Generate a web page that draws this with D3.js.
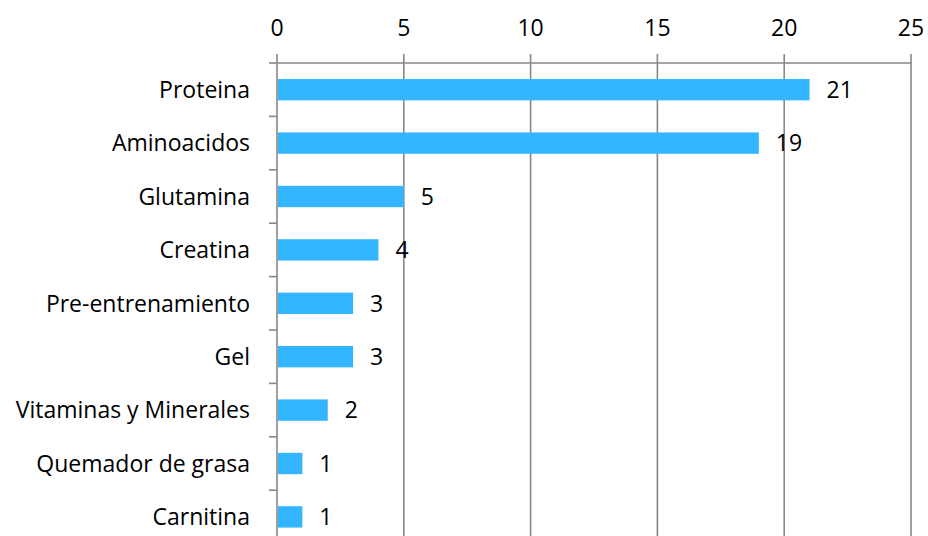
<!DOCTYPE html>
<html>
<head>
<meta charset="utf-8">
<script src="https://cdn.jsdelivr.net/npm/d3@7"></script>
<style>
  html, body { margin: 0; padding: 0; background: #fff; }
  svg { display: block; }
  text { font-family: "Open Sans", sans-serif; fill: #000; }
</style>
</head>
<body>
<svg id="chart" width="928" height="536"></svg>
<script>
// Supplements mentioned (count of responses)
const categories = ["Proteina", "Aminoacidos", "Glutamina", "Creatina", "Pre-entrenamiento",
                    "Gel", "Vitaminas y Minerales", "Quemador de grasa", "Carnitina"];
const counts = [21, 19, 5, 4, 3, 3, 2, 1, 1];
const xTicks = [0, 5, 10, 15, 20, 25];

const svg = d3.select("#chart");
const margin = { top: 63, left: 277, right: 17 };
const W = 928, bandH = 53.4;
const plotBottom = margin.top + bandH * categories.length;
const fontSize = "23px";

const x = d3.scaleLinear().domain([0, 25]).range([margin.left, W - margin.right]);
const y = d3.scaleBand().domain(categories).range([margin.top, plotBottom]).paddingInner(0.6).paddingOuter(0.3);

const gridColor = "#878787";

// vertical gridlines + top axis
const gx = svg.append("g");
gx.selectAll("line.grid").data(xTicks).join("line")
  .attr("class", "grid")
  .attr("x1", d => x(d)).attr("x2", d => x(d))
  .attr("y1", margin.top - 9).attr("y2", plotBottom)
  .attr("stroke", gridColor).attr("stroke-width", 1.6);
gx.append("line")
  .attr("x1", x(0)).attr("x2", x(25))
  .attr("y1", margin.top).attr("y2", margin.top)
  .attr("stroke", gridColor).attr("stroke-width", 1.6);
gx.selectAll("text").data(xTicks).join("text")
  .attr("x", d => x(d)).attr("y", 35.5)
  .attr("text-anchor", "middle")
  .style("font-size", fontSize)
  .text(d => d);

// left category axis ticks at band boundaries
const bounds = d3.range(categories.length + 1).map(i => margin.top + i * bandH);
svg.append("g").selectAll("line").data(bounds).join("line")
  .attr("x1", x(0) - 8).attr("x2", x(0))
  .attr("y1", d => d).attr("y2", d => d)
  .attr("stroke", gridColor).attr("stroke-width", 1.6);

// bars
const data = categories.map((c, i) => ({ c, v: counts[i] }));
svg.append("g").selectAll("rect").data(data).join("rect")
  .attr("x", x(0) + 1)
  .attr("y", d => y(d.c))
  .attr("width", d => x(d.v) - x(0) - 1)
  .attr("height", y.bandwidth())
  .attr("fill", "#33b5ff");

// category labels
svg.append("g").selectAll("text").data(data).join("text")
  .attr("x", 250)
  .attr("y", d => y(d.c) + y.bandwidth() / 2)
  .attr("dy", "0.36em")
  .attr("text-anchor", "end")
  .style("font-size", fontSize)
  .text(d => d.c);

// value labels
svg.append("g").selectAll("text").data(data).join("text")
  .attr("x", d => x(d.v) + 17)
  .attr("y", d => y(d.c) + y.bandwidth() / 2)
  .attr("dy", "0.36em")
  .style("font-size", fontSize)
  .text(d => d.v);
</script>
</body>
</html>
